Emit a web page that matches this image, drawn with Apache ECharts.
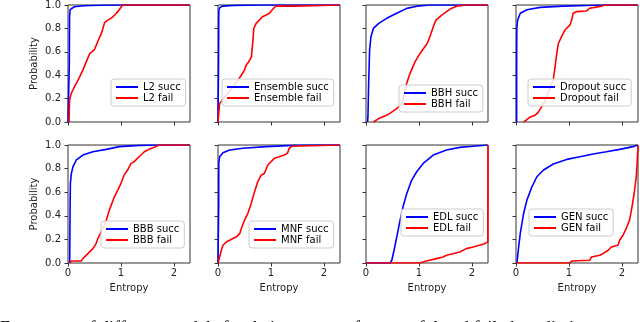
<!DOCTYPE html>
<html>
<head>
<meta charset="utf-8">
<script src="https://cdn.jsdelivr.net/npm/echarts@6/dist/echarts.min.js"></script>
<style>
  html, body { margin: 0; padding: 0; background: #fff; }
  #chart { width: 640px; height: 322px; }
</style>
</head>
<body>
<div id="chart"></div>
<script>
// CDFs of predictive entropy, [entropy, probability]
const models = ["L2", "Ensemble", "BBH", "Dropout", "BBB", "MNF", "EDL", "GEN"];

const l2Succ = [[0, 0], [0.02, 0], [0.025, 0.5], [0.03, 0.9], [0.04, 0.96], [0.07, 0.975], [0.12, 0.985], [0.3, 0.993], [0.6, 0.998], [1.0, 1.0], [2.303, 1.0]];
const l2Fail = [[0.02, 0], [0.025, 0.1], [0.03, 0.186], [0.06, 0.243], [0.1, 0.28], [0.126, 0.306], [0.18, 0.35], [0.22, 0.386], [0.28, 0.443], [0.345, 0.514], [0.41, 0.586], [0.45, 0.6], [0.5, 0.62], [0.56, 0.686], [0.63, 0.757], [0.69, 0.849], [0.75, 0.871], [0.81, 0.886], [0.88, 0.914], [0.94, 0.943], [1.0, 0.98], [1.03, 1.0], [2.303, 1.0]];

const ensSucc = [[0, 0], [0.01, 0.5], [0.015, 0.95], [0.03, 0.975], [0.08, 0.99], [0.3, 0.997], [0.8, 1.0], [2.303, 1.0]];
const ensFail = [[0, 0], [0.02, 0.1], [0.03, 0.157], [0.1, 0.2], [0.25, 0.28], [0.39, 0.366], [0.44, 0.4], [0.5, 0.443], [0.53, 0.486], [0.58, 0.514], [0.63, 0.557], [0.66, 0.7], [0.675, 0.8], [0.72, 0.843], [0.78, 0.871], [0.84, 0.9], [0.91, 0.914], [0.97, 0.929], [1.0, 0.943], [1.045, 0.97], [1.095, 0.99], [1.44, 0.99], [1.46, 1.0], [2.303, 1.0]];

const bbhSucc = [[0.03, 0], [0.037, 0.05], [0.05, 0.33], [0.068, 0.614], [0.094, 0.73], [0.14, 0.8], [0.24, 0.843], [0.39, 0.886], [0.58, 0.929], [0.77, 0.971], [0.96, 0.99], [1.2, 1.0], [2.303, 1.0]];
const bbhFail = [[0.14, 0], [0.24, 0.029], [0.39, 0.057], [0.49, 0.086], [0.58, 0.114], [0.675, 0.157], [0.72, 0.23], [0.756, 0.314], [0.83, 0.414], [0.925, 0.514], [1.02, 0.586], [1.11, 0.643], [1.155, 0.671], [1.206, 0.729], [1.27, 0.814], [1.32, 0.871], [1.43, 0.914], [1.52, 0.943], [1.61, 0.971], [1.71, 0.99], [1.89, 1.0], [2.303, 1.0]];

const dropSucc = [[0.012, 0], [0.012, 0.5], [0.015, 0.8], [0.03, 0.87], [0.08, 0.93], [0.206, 0.96], [0.456, 0.98], [0.89, 0.99], [1.64, 1.0], [2.303, 1.0]];
const dropFail = [[0.143, 0], [0.206, 0.02], [0.27, 0.043], [0.36, 0.057], [0.425, 0.086], [0.55, 0.18], [0.65, 0.3], [0.705, 0.366], [0.737, 0.471], [0.77, 0.586], [0.8, 0.671], [0.86, 0.729], [0.925, 0.786], [0.956, 0.8], [1.02, 0.83], [1.05, 0.871], [1.08, 0.929], [1.14, 0.943], [1.33, 0.949], [1.39, 0.971], [1.49, 0.98], [1.61, 0.99], [1.675, 1.0], [2.303, 1.0]];

const bbbSucc = [[0.032, 0], [0.04, 0.5], [0.045, 0.674], [0.064, 0.76], [0.094, 0.816], [0.158, 0.873], [0.28, 0.915], [0.47, 0.943], [0.72, 0.963], [0.97, 0.986], [1.345, 0.997], [1.72, 1.0], [2.303, 1.0]];
const bbbFail = [[0.032, 0], [0.064, 0.017], [0.25, 0.017], [0.28, 0.037], [0.375, 0.079], [0.47, 0.122], [0.53, 0.164], [0.55, 0.193], [0.62, 0.26], [0.72, 0.357], [0.78, 0.448], [0.876, 0.561], [0.94, 0.618], [1.0, 0.674], [1.06, 0.745], [1.125, 0.788], [1.19, 0.844], [1.25, 0.858], [1.31, 0.887], [1.377, 0.915], [1.44, 0.943], [1.53, 0.963], [1.63, 0.98], [1.72, 1.0], [2.303, 1.0]];

const mnfSucc = [[0, 0], [0.013, 0.5], [0.015, 0.844], [0.03, 0.9], [0.094, 0.935], [0.22, 0.958], [0.47, 0.972], [0.91, 0.986], [1.41, 0.997], [1.8, 1.0], [2.303, 1.0]];
const mnfFail = [[0, 0], [0.03, 0.051], [0.063, 0.108], [0.094, 0.15], [0.157, 0.178], [0.22, 0.193], [0.28, 0.207], [0.345, 0.221], [0.41, 0.249], [0.44, 0.292], [0.5, 0.363], [0.563, 0.419], [0.595, 0.462], [0.626, 0.504], [0.69, 0.603], [0.75, 0.688], [0.814, 0.745], [0.876, 0.759], [0.94, 0.83], [1.0, 0.858], [1.064, 0.887], [1.157, 0.9], [1.25, 0.915], [1.31, 0.929], [1.345, 0.972], [1.396, 0.99], [1.42, 1.0], [2.303, 1.0]];

const edlSucc = [[0, 0], [0.456, 0], [0.487, 0.023], [0.53, 0.108], [0.58, 0.22], [0.644, 0.363], [0.706, 0.49], [0.77, 0.589], [0.863, 0.703], [0.957, 0.773], [1.08, 0.844], [1.27, 0.915], [1.52, 0.958], [1.77, 0.98], [2.02, 0.99], [2.3, 1.0]];
const edlFail = [[0, 0], [1.02, 0], [1.14, 0.017], [1.33, 0.037], [1.456, 0.051], [1.52, 0.065], [1.64, 0.079], [1.77, 0.093], [1.895, 0.122], [2.02, 0.136], [2.14, 0.15], [2.24, 0.164], [2.3, 0.178], [2.303, 1.0]];

const genSucc = [[0.018, 0], [0.05, 0.136], [0.08, 0.249], [0.143, 0.419], [0.206, 0.533], [0.3, 0.646], [0.394, 0.731], [0.52, 0.788], [0.705, 0.839], [0.957, 0.878], [1.206, 0.901], [1.456, 0.924], [1.707, 0.943], [1.957, 0.963], [2.206, 0.986], [2.303, 1.0]];
const genFail = [[0, 0], [1.02, 0], [1.05, 0.017], [1.39, 0.023], [1.426, 0.051], [1.58, 0.065], [1.64, 0.079], [1.74, 0.108], [1.8, 0.136], [1.925, 0.15], [1.957, 0.193], [2.02, 0.235], [2.08, 0.292], [2.144, 0.363], [2.19, 0.476], [2.23, 0.589], [2.27, 0.731], [2.29, 0.873], [2.303, 1.0]];

const succData = [l2Succ, ensSucc, bbhSucc, dropSucc, bbbSucc, mnfSucc, edlSucc, genSucc];
const failData = [l2Fail, ensFail, bbhFail, dropFail, bbbFail, mnfFail, edlFail, genFail];

const xTicks = [0, 1, 2];
const yTicks = [0, 0.2, 0.4, 0.6, 0.8, 1.0];
const xMax = 2.303; // ln(10)
const caption = "Frequency of different models for their entropy of successful and failed predictions";

// layout
const gridLefts = [68, 218, 366, 516];
const rowTops = [5, 145];
const rowHeights = [117, 118];
const legendPos = [
  { left: 111, top: 79 }, { left: 222, top: 79 }, { left: 399, top: 85 }, { left: 528, top: 79 },
  { left: 101, top: 221 }, { left: 249, top: 221 }, { left: 401, top: 209 }, { left: 529, top: 209 },
];

const chart = echarts.init(document.getElementById("chart"));

const grids = [], xAxes = [], yAxes = [], series = [], legends = [];
models.forEach((m, i) => {
  const row = Math.floor(i / 4);
  const col = i % 4;
  grids.push({
    show: true,
    left: gridLefts[col],
    top: rowTops[row],
    width: 122,
    height: rowHeights[row],
    borderColor: "#333",
    borderWidth: 1,
    backgroundColor: "transparent",
  });
  xAxes.push({
    type: "value",
    gridIndex: i,
    min: 0,
    max: xMax,
    axisLine: { show: false },
    axisTick: { show: true, length: 3.5, customValues: xTicks, lineStyle: { color: "#333" } },
    axisLabel: { show: row === 1, customValues: xTicks, fontSize: 10, color: "#222", margin: 5 },
    splitLine: { show: false },
    name: row === 1 ? "Entropy" : "",
    nameLocation: "middle",
    nameGap: 20,
    nameTextStyle: { fontSize: 10, color: "#222" },
  });
  yAxes.push({
    type: "value",
    gridIndex: i,
    min: 0,
    max: 1,
    axisLine: { show: false },
    axisTick: { show: true, length: 3.5, customValues: yTicks, lineStyle: { color: "#333" } },
    axisLabel: {
      show: col === 0,
      customValues: yTicks,
      fontSize: 10,
      color: "#222",
      margin: 7,
      formatter: (v) => v.toFixed(1),
    },
    splitLine: { show: false },
    name: col === 0 ? "Probability" : "",
    nameLocation: "middle",
    nameGap: 29,
    nameTextStyle: { fontSize: 10, color: "#222" },
  });
  series.push({
    name: m + " succ",
    type: "line",
    xAxisIndex: i,
    yAxisIndex: i,
    data: succData[i],
    symbol: "none",
    lineStyle: { color: "#0000ff", width: 1.6 },
    itemStyle: { color: "#0000ff" },
  });
  series.push({
    name: m + " fail",
    type: "line",
    xAxisIndex: i,
    yAxisIndex: i,
    data: failData[i],
    symbol: "none",
    lineStyle: { color: "#ff0000", width: 1.6 },
    itemStyle: { color: "#ff0000" },
  });
  legends.push({
    data: [m + " succ", m + " fail"],
    left: legendPos[i].left,
    top: legendPos[i].top,
    orient: "vertical",
    icon: "rect",
    itemWidth: 22,
    itemHeight: 2,
    itemGap: 1,
    padding: [3, 5],
    backgroundColor: "rgba(255,255,255,0.85)",
    borderColor: "#ccc",
    borderWidth: 1,
    borderRadius: 3,
    selectedMode: false,
    textStyle: { fontSize: 10, color: "#000" },
  });
});

const option = {
  animation: false,
  textStyle: { fontFamily: "DejaVu Sans" },
  grid: grids,
  xAxis: xAxes,
  yAxis: yAxes,
  legend: legends,
  series: series,
  graphic: [
    {
      type: "text",
      left: 0,
      top: 320,
      style: { text: caption, font: '18px "Liberation Serif"', fill: "#000" },
    },
  ],
};
chart.setOption(option);
</script>
</body>
</html>
